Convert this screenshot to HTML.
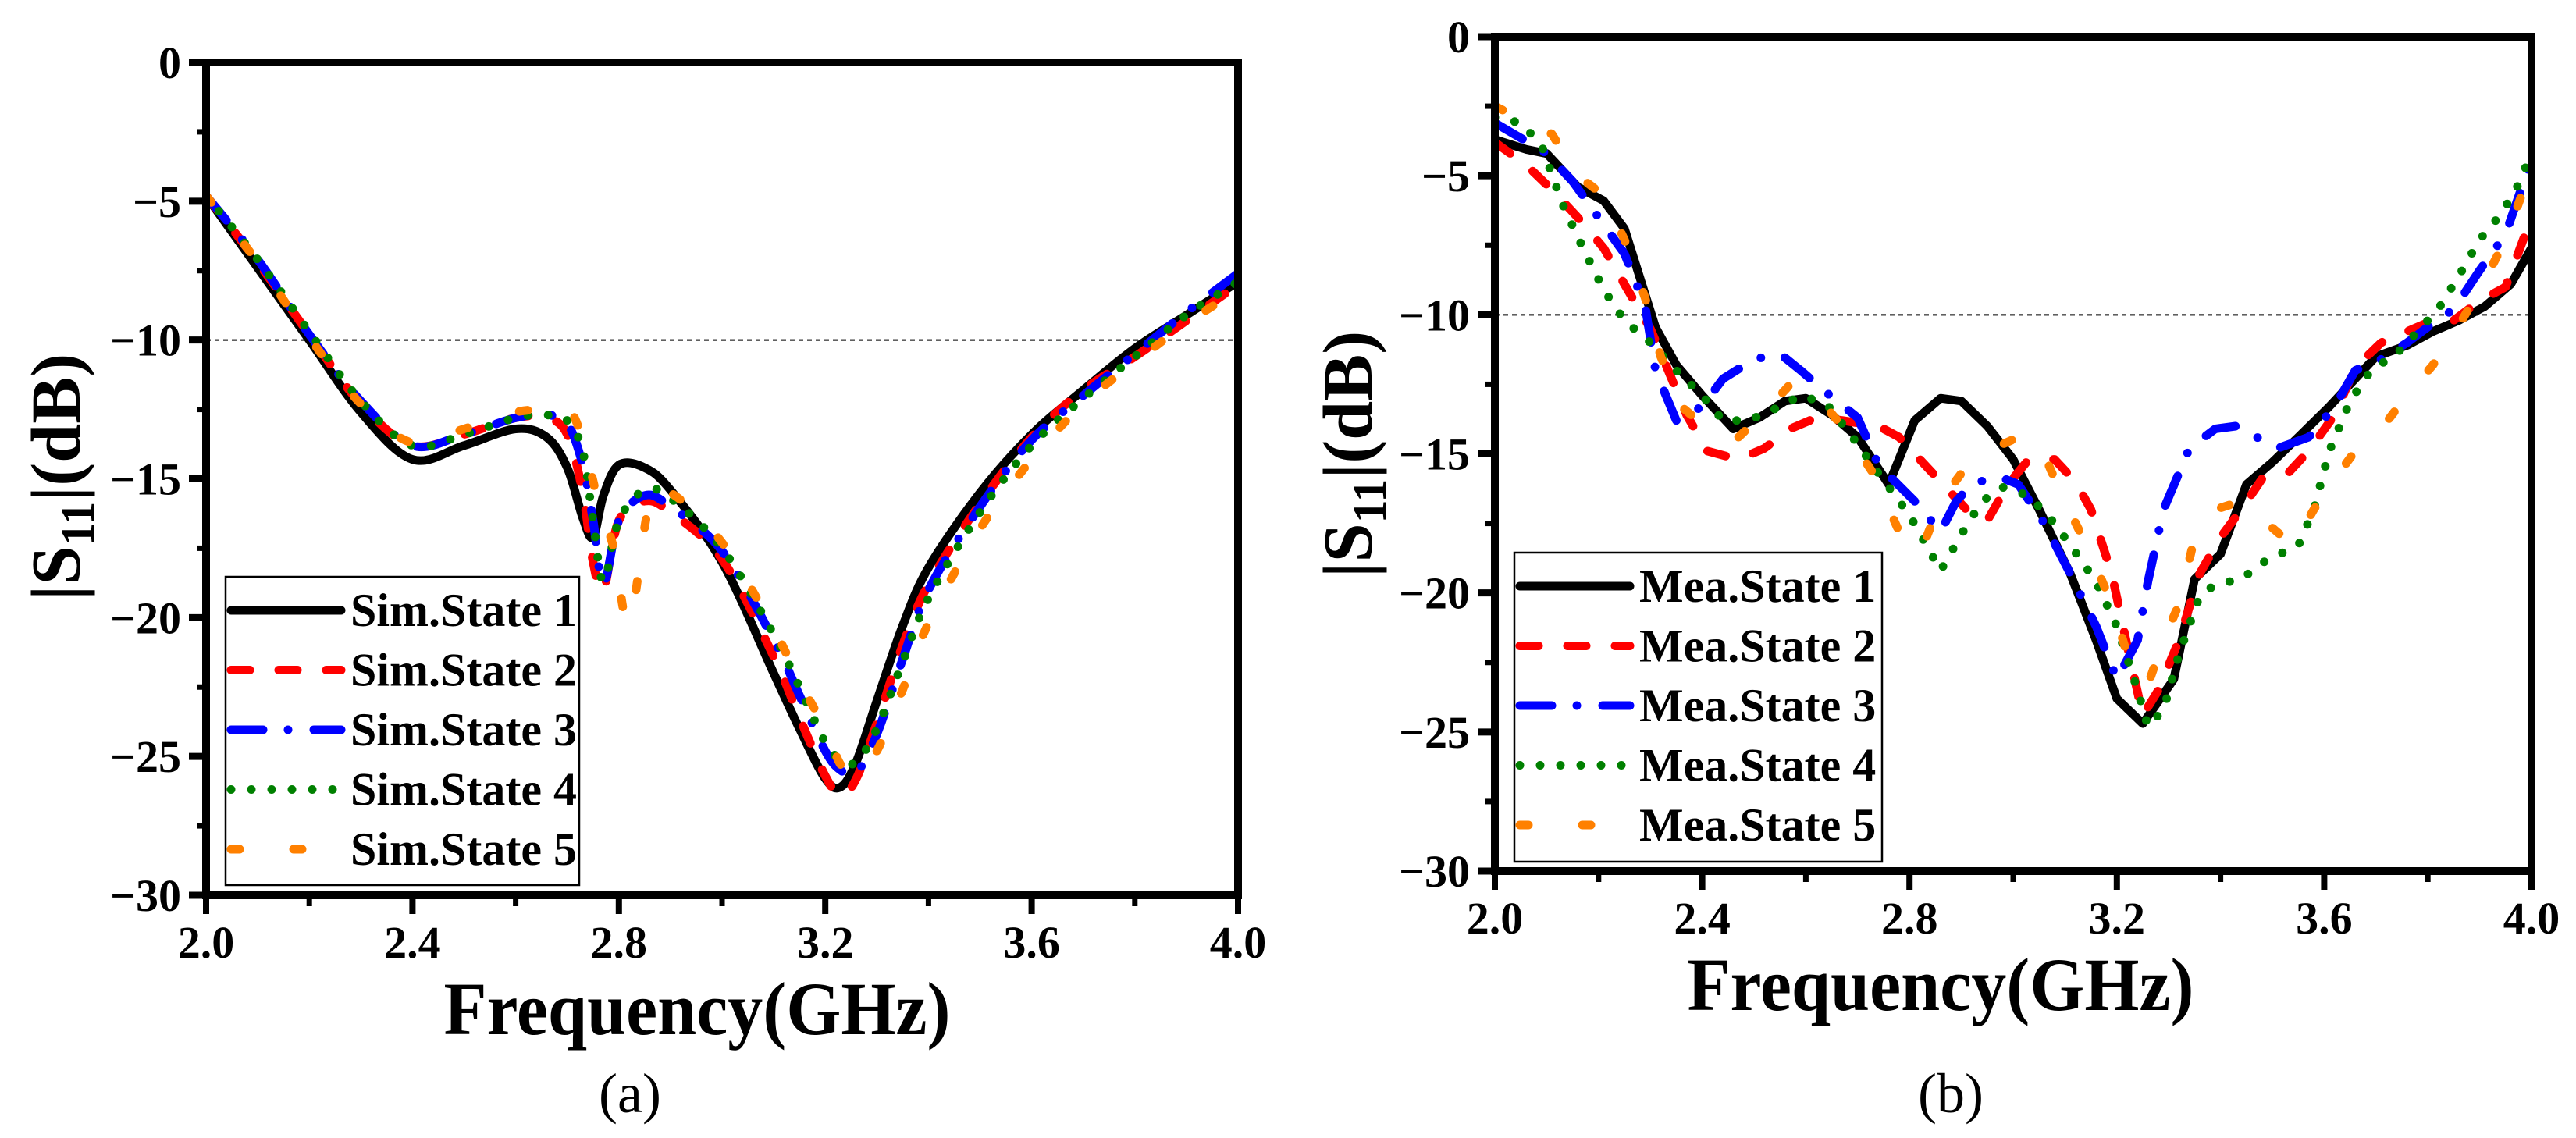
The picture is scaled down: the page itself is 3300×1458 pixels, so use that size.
<!DOCTYPE html>
<html><head><meta charset="utf-8"><style>
html,body{margin:0;padding:0;background:#fff;}
svg{display:block;}
text{font-family:"Liberation Serif",serif;}
</style></head><body>
<svg id="fig" width="3300" height="1458" viewBox="0 0 3300 1458" xmlns="http://www.w3.org/2000/svg"></svg>
<script>
// ---- Panel (a) simulated data ----
const simFreq = [2.0,2.1,2.2,2.3,2.4,2.5,2.6,2.66,2.7,2.73,2.75,2.77,2.8,2.85,2.9,3.0,3.1,3.15,3.2,3.23,3.26,3.3,3.35,3.4,3.5,3.6,3.7,3.8,3.9,4.0];
const sim1 = [-4.8,-7.4,-10.0,-12.6,-14.3,-13.8,-13.2,-13.5,-14.6,-16.4,-17.1,-15.6,-14.5,-14.6,-15.4,-18.0,-22.0,-24.0,-25.8,-26.1,-25.2,-23.0,-20.3,-18.2,-15.5,-13.4,-11.8,-10.3,-9.1,-7.9];
const sim2 = [-4.8,-7.2,-9.8,-12.3,-13.8,-13.4,-12.8,-12.8,-13.4,-15.5,-18.0,-19.0,-16.5,-15.8,-16.2,-17.9,-21.4,-23.6,-25.7,-26.4,-25.8,-23.8,-21.0,-18.8,-15.9,-13.5,-11.8,-10.6,-9.3,-8.0];
const sim3 = [-4.8,-7.1,-9.8,-12.2,-13.8,-13.4,-12.8,-12.7,-13.0,-14.5,-16.5,-18.8,-16.5,-15.6,-16.0,-17.6,-20.8,-22.8,-24.8,-25.5,-25.6,-24.2,-21.5,-19.0,-16.0,-13.6,-12.0,-10.5,-9.0,-7.6];
const sim4 = [-4.8,-7.1,-9.7,-12.2,-13.8,-13.4,-12.8,-12.7,-12.9,-14.0,-16.5,-18.7,-16.5,-15.4,-15.7,-17.5,-20.6,-22.5,-24.5,-25.1,-25.2,-24.0,-21.6,-19.3,-16.2,-13.8,-12.1,-10.6,-9.1,-7.9];
const sim5Freq = [2.0,2.1,2.2,2.3,2.4,2.5,2.6,2.66,2.7,2.73,2.76,2.79,2.82,2.86,2.9,3.0,3.1,3.15,3.2,3.23,3.26,3.3,3.35,3.4,3.5,3.6,3.7,3.8,3.9,4.0];
const sim5 = [-4.8,-7.2,-9.9,-12.3,-13.7,-13.2,-12.6,-12.5,-12.4,-13.6,-15.8,-17.5,-20.2,-15.8,-15.5,-17.3,-20.4,-22.3,-24.0,-25.3,-25.7,-24.8,-22.6,-20.2,-16.8,-14.3,-12.3,-10.8,-9.4,-8.2];

// ---- Panel (b) measured data ----
const mea1Freq = [2.0,2.06,2.10,2.16,2.21,2.25,2.31,2.35,2.40,2.46,2.51,2.56,2.60,2.65,2.70,2.76,2.81,2.86,2.90,2.95,3.00,3.05,3.11,3.16,3.20,3.25,3.31,3.35,3.40,3.45,3.50,3.55,3.61,3.66,3.70,3.76,3.81,3.86,3.91,3.96,4.0];
const mea1 = [-3.7,-4.05,-4.2,-5.4,-5.9,-6.9,-10.45,-11.8,-12.9,-14.1,-13.7,-13.1,-13.0,-13.6,-14.4,-16.1,-13.8,-13.0,-13.1,-14.0,-15.2,-17.0,-19.3,-21.7,-23.8,-24.7,-23.1,-19.5,-18.6,-16.1,-15.3,-14.4,-13.3,-12.3,-11.5,-11.1,-10.6,-10.2,-9.7,-8.9,-7.6];
const mea2Freq = [2.0,2.06,2.11,2.16,2.21,2.25,2.30,2.33,2.37,2.41,2.47,2.52,2.57,2.62,2.67,2.74,2.78,2.83,2.87,2.91,2.95,2.99,3.03,3.08,3.12,3.15,3.19,3.22,3.25,3.28,3.32,3.36,3.40,3.44,3.48,3.53,3.57,3.62,3.66,3.71,3.76,3.81,3.85,3.90,3.95,4.0];
const mea2 = [-3.8,-4.6,-5.5,-6.5,-7.6,-8.9,-10.5,-11.8,-13.6,-14.9,-15.2,-14.8,-14.1,-13.7,-13.8,-14.0,-14.4,-15.4,-16.2,-17.0,-17.4,-16.1,-15.2,-15.2,-16.0,-17.0,-19.3,-21.9,-24.4,-23.5,-21.7,-19.3,-18.0,-17.0,-15.9,-15.7,-14.9,-13.6,-11.9,-11.0,-10.6,-10.2,-10.2,-9.5,-9.0,-6.5];
const mea3Freq = [2.0,2.055,2.10,2.15,2.20,2.25,2.29,2.31,2.35,2.40,2.44,2.50,2.55,2.59,2.64,2.70,2.74,2.81,2.86,2.89,2.92,2.97,3.01,3.06,3.11,3.16,3.20,3.24,3.26,3.29,3.34,3.39,3.43,3.47,3.51,3.57,3.62,3.66,3.71,3.76,3.81,3.85,3.90,3.95,4.0];
const mea3 = [-3.1,-3.7,-4.2,-5.2,-6.5,-7.8,-9.7,-12.0,-13.8,-13.3,-12.3,-11.6,-11.4,-12.0,-12.8,-13.7,-15.4,-16.7,-17.8,-16.7,-16.1,-15.8,-16.1,-17.5,-19.3,-21.2,-23.1,-21.7,-19.6,-17.0,-14.8,-14.1,-14.0,-14.4,-14.8,-14.4,-13.3,-12.0,-11.6,-11.0,-10.3,-9.8,-8.4,-7.1,-4.4];
const mea4Freq = [2.0,2.05,2.09,2.13,2.17,2.21,2.25,2.30,2.35,2.40,2.44,2.49,2.55,2.59,2.64,2.69,2.74,2.80,2.86,2.90,2.94,2.98,3.03,3.08,3.13,3.16,3.20,3.24,3.26,3.29,3.32,3.36,3.39,3.44,3.49,3.55,3.58,3.61,3.65,3.69,3.74,3.78,3.82,3.86,3.90,3.94,3.97,4.0];
const mea4 = [-2.9,-3.1,-3.9,-6.0,-7.6,-9.1,-10.2,-11.0,-12.0,-12.9,-13.8,-13.8,-13.3,-12.9,-13.2,-14.4,-15.7,-17.2,-19.2,-17.9,-16.7,-16.2,-16.5,-17.5,-18.8,-19.6,-21.2,-23.5,-24.8,-24.2,-22.2,-20.1,-19.7,-19.5,-18.8,-18.3,-17.0,-14.9,-13.1,-12.0,-11.4,-10.6,-9.8,-8.6,-7.3,-6.4,-5.5,-4.2];
const mea5Freq = [2.0,2.055,2.11,2.16,2.21,2.25,2.29,2.32,2.36,2.41,2.47,2.52,2.57,2.62,2.67,2.73,2.78,2.82,2.86,2.90,2.95,3.01,3.05,3.08,3.11,3.15,3.19,3.22,3.26,3.29,3.32,3.35,3.39,3.44,3.49,3.54,3.58,3.62,3.66,3.71,3.76,3.81,3.85,3.90,3.95,4.0];
const mea5 = [-2.5,-3.0,-3.5,-5.0,-5.7,-7.3,-9.4,-11.5,-13.3,-14.1,-14.4,-13.5,-12.5,-12.9,-14.0,-15.7,-17.8,-18.6,-16.7,-15.7,-14.9,-14.4,-14.6,-15.9,-17.1,-18.6,-20.4,-22.2,-23.3,-21.7,-20.4,-18.0,-17.0,-16.7,-17.5,-18.3,-17.0,-15.9,-14.9,-14.1,-12.9,-11.8,-10.7,-9.1,-7.3,-4.7];

// ---- axis tick labels ----
const xTicks = [2.0,2.4,2.8,3.2,3.6,4.0];
const xTickLabels = ["2.0","2.4","2.8","3.2","3.6","4.0"];
const yTicks = [0,-5,-10,-15,-20,-25,-30];
const yTickLabels = ["0","\u22125","\u221210","\u221215","\u221220","\u221225","\u221230"];
const simNames = ["Sim.State 1","Sim.State 2","Sim.State 3","Sim.State 4","Sim.State 5"];
const meaNames = ["Mea.State 1","Mea.State 2","Mea.State 3","Mea.State 4","Mea.State 5"];

const NS = "http://www.w3.org/2000/svg";
const svg = document.getElementById('fig');
function mk(tag, attrs, parent){
  const e = document.createElementNS(NS, tag);
  for (const k in attrs) e.setAttribute(k, attrs[k]);
  (parent||svg).appendChild(e);
  return e;
}
const styles = [
  {c:'#000000', d:''},
  {c:'#ff0000', d:'24 37'},
  {c:'#0000ff', d:'41 32 0 33'},
  {c:'#008000', d:'0 26'},
  {c:'#ff8000', d:'11 69'}
];

function smoothPath(pts){
  let d = 'M'+pts[0][0].toFixed(1)+','+pts[0][1].toFixed(1);
  for (let i=0;i<pts.length-1;i++){
    const p0 = pts[i-1]||pts[i], p1=pts[i], p2=pts[i+1], p3=pts[i+2]||p2;
    const c1x = p1[0]+(p2[0]-p0[0])/6, c1y = p1[1]+(p2[1]-p0[1])/6;
    const c2x = p2[0]-(p3[0]-p1[0])/6, c2y = p2[1]-(p3[1]-p1[1])/6;
    d += ' C'+c1x.toFixed(1)+','+c1y.toFixed(1)+' '+c2x.toFixed(1)+','+c2y.toFixed(1)+' '+p2[0].toFixed(1)+','+p2[1].toFixed(1);
  }
  return d;
}
function linePath(pts){
  return pts.map((p,i)=>(i?'L':'M')+p[0].toFixed(1)+','+p[1].toFixed(1)).join(' ');
}

function panel(cfg){
  const g = mk('g', {});
  
  
  const L=cfg.L, R=cfg.R, T=cfg.T, B=cfg.B;
  const xs = f => L + (f-2.0)/(4.0-2.0)*(R-L);
  const ys = v => T + (0-v)/30*(B-T);
  const clipId = cfg.name+'-clip';
  const defs = mk('defs', {}, g);
  const cp = mk('clipPath', {id: clipId}, defs);
  mk('rect', {x:L, y:T-8, width:R-L, height:B-T+8}, cp);

  const ref = mk('line', {x1:L, x2:R, y1:ys(-10), y2:ys(-10), stroke:'#000', 'stroke-width':2, 'stroke-dasharray':'6 5'}, g);
  
  

  const sg = mk('g', {'clip-path':'url(#'+clipId+')'}, g);
  cfg.series.forEach((s,i)=>{
    const pts = s.f.map((f,j)=>[xs(f), ys(s.v[j])]);
    const p = mk('path', {d: cfg.smooth ? smoothPath(pts) : linePath(pts), fill:'none', stroke:styles[i].c,
      'stroke-width':11, 'stroke-linecap':'round', 'stroke-linejoin':'round'}, sg);
    if (styles[i].d) p.setAttribute('stroke-dasharray', styles[i].d);
    
    
  });

  const fr = mk('rect', {x:L, y:T, width:R-L, height:B-T, fill:'none', stroke:'#000', 'stroke-width':10}, g);
  
  

  for (let k=0;k<=10;k++){
    const f = 2.0 + k*0.2;
    const major = k%2===0;
    const t = mk('line', {x1:xs(f), x2:xs(f), y1:B, y2:B+(major?24:14), stroke:'#000', 'stroke-width':major?8:7}, g);
    
    
  }
  xTicks.forEach((f,i)=>{
    const t = mk('text', {x:xs(f), y:cfg.xLabelY, 'text-anchor':'middle', 'font-size':58, 'font-weight':'bold'}, g);
    t.textContent = xTickLabels[i];
    
    
  });
  for (let k=0;k<=12;k++){
    const v = -k*2.5;
    const major = k%2===0;
    const t = mk('line', {x1:L-(major?22:12), x2:L, y1:ys(v), y2:ys(v), stroke:'#000', 'stroke-width':major?9:7}, g);
    
    
  }
  yTicks.forEach((v,i)=>{
    const t = mk('text', {x:L-32, y:ys(v)+20, 'text-anchor':'end', 'font-size':58, 'font-weight':'bold'}, g);
    t.textContent = yTickLabels[i];
    
    
  });

  const xt = mk('text', {x:cfg.xTitleX, y:cfg.xTitleY, 'text-anchor':'middle', 'font-size':96, 'font-weight':'bold', textLength:649, lengthAdjust:'spacingAndGlyphs'}, g);
  xt.textContent = 'Frequency(GHz)';
  
  

  const yt = mk('text', {x:0, y:0, 'text-anchor':'middle', 'font-size':90, 'font-weight':'bold',
    transform:'translate('+(cfg.yTitleX)+','+cfg.yTitleY+') rotate(-90)'}, g);
  
  
  const t1 = mk('tspan', {}, yt); t1.textContent = '|S';
  const t2 = mk('tspan', {'font-size':60, dy:18}, yt); t2.textContent = '11';
  const t3 = mk('tspan', {dy:-18}, yt); t3.textContent = '|(dB)';

  const cap = mk('text', {x:cfg.capX, y:1425, 'text-anchor':'middle', 'font-size':72}, g);
  cap.textContent = cfg.caption;
  
  

  const lg = mk('g', {}, g);
  
  
  mk('rect', {x:cfg.legX, y:cfg.legY, width:cfg.legW, height:cfg.legH, fill:'#fff', stroke:'#000', 'stroke-width':2.5}, lg);
  cfg.names.forEach((n,i)=>{
    const yy = cfg.legY + 43 + i*76.5;
    const e = mk('g', {}, lg);
    
    
    const ln = mk('line', {x1:cfg.legX+7, x2:cfg.legX+148, y1:yy, y2:yy, stroke:styles[i].c, 'stroke-width':11, 'stroke-linecap':'round'}, e);
    if (styles[i].d) ln.setAttribute('stroke-dasharray', styles[i].d);
    const tx = mk('text', {x:cfg.legX+160, y:yy+20, 'font-size':60, 'font-weight':'bold'}, e);
    tx.textContent = n;
  });
}

panel({name:'panel-a-simulated', prefix:'sim', L:264, R:1586, T:80, B:1147, smooth:true,
  xLabelY:1227, xTitleX:893, xTitleY:1325, yTitleX:102, yTitleY:611, capX:807, caption:'(a)',
  legX:289, legY:739, legW:453, legH:395, names:simNames,
  series:[{f:simFreq,v:sim1},{f:simFreq,v:sim2},{f:simFreq,v:sim3},{f:simFreq,v:sim4},{f:sim5Freq,v:sim5}]});

panel({name:'panel-b-measured', prefix:'mea', L:1915, R:3243, T:47, B:1116, smooth:false,
  xLabelY:1196, xTitleX:2486, xTitleY:1294, yTitleX:1757, yTitleY:582, capX:2499, caption:'(b)',
  legX:1940, legY:708, legW:471, legH:396, names:meaNames,
  series:[{f:mea1Freq,v:mea1},{f:mea2Freq,v:mea2},{f:mea3Freq,v:mea3},{f:mea4Freq,v:mea4},{f:mea5Freq,v:mea5}]});
</script>
</body></html>
